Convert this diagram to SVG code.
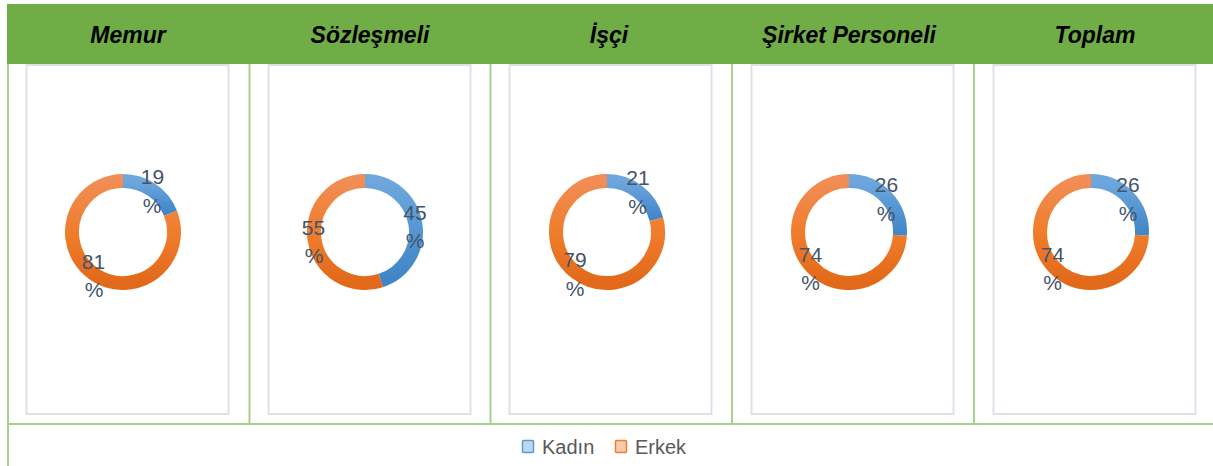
<svg xmlns="http://www.w3.org/2000/svg" width="1213" height="466" viewBox="0 0 1213 466">
<style>
.hdr{font-family:"Liberation Sans",Arial,sans-serif;font-weight:bold;font-style:italic;font-size:23px;fill:#000;text-anchor:middle}
.grid{stroke:#A9D18E;stroke-width:2;fill:none}
.box{fill:#fff;stroke:#DDE2EA;stroke-width:2}
.k{fill:none;stroke:url(#gb);stroke-width:14}
.e{fill:none;stroke:url(#go);stroke-width:14}
.lbl{font-family:"Liberation Sans",Arial,sans-serif;font-size:21px;fill:#44546A;text-anchor:middle}
.leg{font-family:"Liberation Sans",Arial,sans-serif;font-size:20px;fill:#595959}
</style>
<defs>
<linearGradient id="gb" x1="0" y1="0" x2="0" y2="1">
<stop offset="0" stop-color="#6EA7DD"/><stop offset="1" stop-color="#3F85C7"/>
</linearGradient>
<linearGradient id="go" x1="0" y1="0" x2="0" y2="1">
<stop offset="0" stop-color="#F18D55"/><stop offset="0.5" stop-color="#EF7D2C"/><stop offset="1" stop-color="#E2691A"/>
</linearGradient>
</defs>
<rect x="0" y="0" width="1213" height="466" fill="#fff"/>
<rect x="7" y="4" width="1206" height="60" fill="#70AD47"/>
<g id="grid">
<line class="grid" x1="8" y1="64" x2="8" y2="466"/>
<line class="grid" x1="249.5" y1="64" x2="249.5" y2="424"/>
<line class="grid" x1="490.5" y1="64" x2="490.5" y2="424"/>
<line class="grid" x1="732" y1="64" x2="732" y2="424"/>
<line class="grid" x1="974" y1="64" x2="974" y2="424"/>
<line class="grid" x1="8" y1="424" x2="1213" y2="424"/>
</g>
<g id="memur">
<text class="hdr" x="128" y="43">Memur</text>
<rect class="box" x="26.5" y="65" width="202" height="349"/>
<path class="k" d="M123,181 A51,51 0 0 1 170.42,213.23"/>
<path class="e" d="M170.42,213.23 A51,51 0 1 1 123,181"/>
<text class="lbl" x="152.5" y="184">19</text><text class="lbl" x="152" y="213">%</text>
<text class="lbl" x="93.5" y="269">81</text><text class="lbl" x="94" y="297">%</text>
</g>
<g id="sozlesmeli">
<text class="hdr" x="370" y="43">Sözleşmeli</text>
<rect class="box" x="268.5" y="65" width="202" height="349"/>
<path class="k" d="M365,181 A51,51 0 0 1 380.76,280.5"/>
<path class="e" d="M380.76,280.5 A51,51 0 1 1 365,181"/>
<text class="lbl" x="415" y="220">45</text><text class="lbl" x="415" y="248">%</text>
<text class="lbl" x="313.5" y="235">55</text><text class="lbl" x="314" y="263">%</text>
</g>
<g id="isci">
<text class="hdr" x="609" y="43">İşçi</text>
<rect class="box" x="509.5" y="65" width="202" height="349"/>
<path class="k" d="M607,181 A51,51 0 0 1 656.4,219.32"/>
<path class="e" d="M656.4,219.32 A51,51 0 1 1 607,181"/>
<text class="lbl" x="638" y="185">21</text><text class="lbl" x="637.5" y="214">%</text>
<text class="lbl" x="575" y="267">79</text><text class="lbl" x="575" y="296">%</text>
</g>
<g id="sirket">
<text class="hdr" x="849" y="43">Şirket Personeli</text>
<rect class="box" x="751.5" y="65" width="202" height="349"/>
<path class="k" d="M849,181 A51,51 0 0 1 899.9,235.2"/>
<path class="e" d="M899.9,235.2 A51,51 0 1 1 849,181"/>
<text class="lbl" x="886.5" y="192">26</text><text class="lbl" x="886" y="221">%</text>
<text class="lbl" x="810.5" y="262">74</text><text class="lbl" x="810.5" y="290">%</text>
</g>
<g id="toplam">
<text class="hdr" x="1095" y="43">Toplam</text>
<rect class="box" x="993.5" y="65" width="202" height="349"/>
<path class="k" d="M1091,181 A51,51 0 0 1 1141.9,235.2"/>
<path class="e" d="M1141.9,235.2 A51,51 0 1 1 1091,181"/>
<text class="lbl" x="1128" y="192">26</text><text class="lbl" x="1128" y="221">%</text>
<text class="lbl" x="1052.5" y="262">74</text><text class="lbl" x="1052.5" y="290">%</text>
</g>
<g id="legend">
<rect x="522.5" y="440.5" width="11" height="12" rx="1" fill="#BDD7EE" stroke="#5B9BD5" stroke-width="1.5"/>
<text class="leg" x="542" y="454">Kadın</text>
<rect x="615.5" y="440.5" width="11" height="12" rx="1" fill="#F8CBAD" stroke="#ED7D31" stroke-width="1.5"/>
<text class="leg" x="635" y="454">Erkek</text>
</g>
</svg>
